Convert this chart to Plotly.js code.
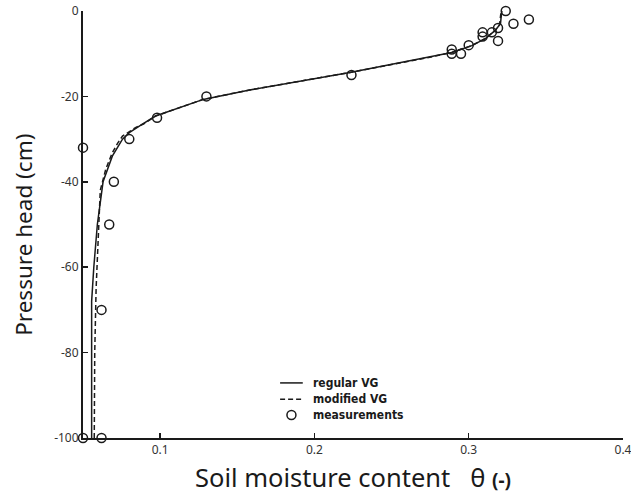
<!DOCTYPE html>
<html>
<head>
<meta charset="utf-8">
<script src="https://cdn.plot.ly/plotly-3.0.1.min.js"></script>
<style>
  html, body { margin: 0; padding: 0; background: #fff; }
  #chart { width: 631px; height: 495px; }
</style>
</head>
<body>
<div id="chart"></div>
<script>
// Retention curve: regular van Genuchten fit
var regularTheta = [0.0556, 0.0556, 0.0570, 0.0593, 0.0630, 0.0690, 0.0756, 0.0800, 0.0880, 0.0970,
                    0.1280, 0.1580, 0.2230, 0.2740, 0.2890, 0.3020, 0.3110, 0.3170, 0.3206, 0.3210, 0.3215];
var regularHead  = [-100, -68, -60, -50, -40, -34, -30, -28.5, -26.6, -24.6,
                    -20.7, -18.5, -14.4, -10.9, -9.7, -8.1, -6.4, -4.6, -3.0, -1.5, 0];

// Retention curve: modified van Genuchten fit
var modifiedTheta = [0.0573, 0.0576, 0.0585, 0.0600, 0.0612, 0.0648, 0.0690, 0.0724, 0.0756, 0.0840, 0.0895, 0.0970,
                     0.1280, 0.1580, 0.2230, 0.2740, 0.2890, 0.3020, 0.3110, 0.3170, 0.3200, 0.3205, 0.3210];
var modifiedHead  = [-100, -80, -65, -50, -42, -37, -33.2, -31, -29.3, -27.3, -26.4, -24.6,
                     -20.7, -18.5, -14.4, -10.9, -9.7, -8.1, -6.4, -4.6, -3.2, -1.6, 0];

// Measured points (theta, pressure head)
var measTheta = [0.050, 0.050, 0.062, 0.062, 0.067, 0.070, 0.080, 0.098, 0.130, 0.224,
                 0.289, 0.289, 0.295, 0.300, 0.309, 0.309, 0.315, 0.319, 0.319, 0.324, 0.329, 0.339];
var measHead  = [-32, -100, -100, -70, -50, -40, -30, -25, -20, -15,
                 -9, -10, -10, -8, -5, -6, -5, -4, -7, 0, -3, -2];

var legendLabels = ['regular VG', 'modified VG', 'measurements'];
var yTicks = [0, -20, -40, -60, -80, -100];

var ink = '#1a1a1a';
var sans = 'Noto Sans, Open Sans, DejaVu Sans, sans-serif';
var legendFont = { family: 'DejaVu Sans Condensed, DejaVu Sans, sans-serif', size: 12, color: ink, weight: 'bold' };
var dashPattern = '5px,3px';

var traces = [
  {
    x: regularTheta, y: regularHead, name: legendLabels[0],
    type: 'scatter', mode: 'lines',
    line: { color: ink, width: 1.5 }
  },
  {
    x: modifiedTheta, y: modifiedHead, name: legendLabels[1],
    type: 'scatter', mode: 'lines',
    line: { color: ink, width: 1.5, dash: dashPattern }
  },
  {
    x: measTheta, y: measHead, name: legendLabels[2],
    type: 'scatter', mode: 'markers', cliponaxis: false,
    marker: { symbol: 'circle-open', size: 9, color: ink, line: { width: 1.5, color: ink } }
  }
];

// Compact key in the lower middle of the plot (sample + label per row)
var keyRowsY = [0.129, 0.091, 0.054];
var keySampleX = [0.365, 0.407];
var keyTextX = 0.423;

var shapes = [
  { type: 'line', xref: 'paper', yref: 'paper', x0: keySampleX[0], x1: keySampleX[1],
    y0: keyRowsY[0], y1: keyRowsY[0], line: { color: ink, width: 1.5 } },
  { type: 'line', xref: 'paper', yref: 'paper', x0: keySampleX[0], x1: keySampleX[1],
    y0: keyRowsY[1], y1: keyRowsY[1], line: { color: ink, width: 1.5, dash: dashPattern } },
  { type: 'circle', xref: 'paper', yref: 'paper', xsizemode: 'pixel', ysizemode: 'pixel',
    xanchor: (keySampleX[0] + keySampleX[1]) / 2, yanchor: keyRowsY[2],
    x0: -4.5, x1: 4.5, y0: -4.5, y1: 4.5, line: { color: ink, width: 1.5 } }
];

var annotations = legendLabels.map(function (label, i) {
  return { text: label, xref: 'paper', yref: 'paper', x: keyTextX, y: keyRowsY[i],
           xanchor: 'left', yanchor: 'middle', showarrow: false, font: legendFont };
});

// Vertical axis title, placed as free text
annotations.push({
  text: 'Pressure head (cm)', xref: 'paper', yref: 'paper', x: -0.11, y: 0.475,
  xanchor: 'center', yanchor: 'middle', textangle: -90, showarrow: false,
  font: { family: sans, size: 22.5, color: ink }
});

var layout = {
  width: 631, height: 495,
  margin: { l: 83, r: 8, t: 11, b: 57 },
  paper_bgcolor: '#fff', plot_bgcolor: '#fff',
  showlegend: false,
  shapes: shapes,
  annotations: annotations,
  xaxis: {
    range: [0.05, 0.4],
    tickmode: 'linear', tick0: 0, dtick: 0.1,
    ticks: 'inside', ticklen: 5, tickwidth: 1.5, tickcolor: ink,
    ticklabeloverflow: 'allow',
    showline: true, linewidth: 2, linecolor: ink,
    showgrid: false, zeroline: false,
    tickfont: { family: sans, size: 12, color: '#333' },
    title: { text: 'Soil moisture content   θ <span style="font-size:19px"><b>(-)</b></span>',
             font: { family: sans, size: 25.5, color: ink }, standoff: 12 }
  },
  yaxis: {
    range: [-100, 0],
    tickvals: yTicks, ticktext: yTicks.map(String),
    ticks: 'inside', ticklen: 5, tickwidth: 1.5, tickcolor: ink,
    showline: true, linewidth: 2, linecolor: ink,
    showgrid: false, zeroline: false,
    tickfont: { family: sans, size: 12, color: '#333' }
  }
};

Plotly.newPlot('chart', traces, layout, { displayModeBar: false, staticPlot: true });
</script>
</body>
</html>
